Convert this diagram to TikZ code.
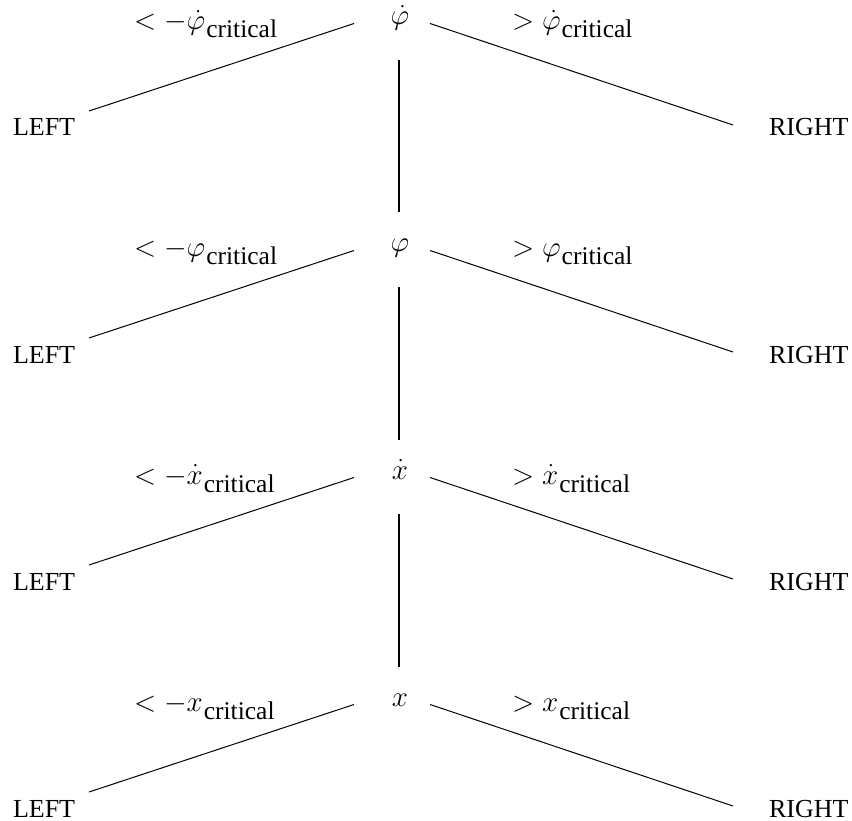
\RequirePackage{fix-cm}
\documentclass[tikz,border=0pt]{standalone}
\usepackage{fontspec}
\setmainfont{Liberation Serif}
\newfontfamily\timesfont{Liberation Serif}
\newcommand\mathbig[1]{{\fontsize{29}{32}\selectfont$#1$}}
\begin{document}
\begin{tikzpicture}[x=1pt,y=-1pt,
  txt/.style={font=\timesfont\fontsize{26}{28}\selectfont, inner sep=0pt, outer sep=0pt},
  var/.style={font=\fontsize{29}{32}\selectfont, inner sep=0pt, outer sep=0pt, anchor=base},
  lbl/.style={font=\timesfont\fontsize{25.5}{28}\selectfont, inner sep=0pt, outer sep=0pt, anchor=base west},
  branch/.style={line width=1pt},
  stem/.style={line width=2.8pt}]
\useasboundingbox (0,0) rectangle (852,821);
\foreach \i/\v in {0/{\dot\varphi},1/{\varphi},2/{\dot x},3/{x}} {
  \pgfmathsetmacro\dy{227*\i}
  \node[var] (v\i) at (400,25+\dy) {$\v$};
  \node[txt, anchor=base west] (L\i) at (13,136+\dy) {LEFT};
  \node[txt, anchor=base west] (R\i) at (769,136+\dy) {RIGHT};
  \node[lbl] (ll\i) at (134,30+\dy) {\mathbig{<-\v}\hspace{1pt}\raisebox{-8pt}{critical}};
  \node[lbl] (rl\i) at (512,30+\dy) {\mathbig{>\v}\hspace{1pt}\raisebox{-8pt}{critical}};
  \coordinate (la\i) at (89,111+\dy);
  \coordinate (lb\i) at (354,23.5+\dy);
  \coordinate (ra\i) at (430,23.5+\dy);
  \coordinate (rb\i) at (733,125+\dy);
  \draw[branch] (la\i) -- (lb\i);
  \draw[branch] (ra\i) -- (rb\i);
}
\foreach \i in {0,1,2} {
  \pgfmathsetmacro\dy{227*\i}
  \coordinate (sa\i) at (399,60+\dy);
  \coordinate (sb\i) at (399,212.5+\dy);
  \draw[stem] (sa\i) -- (sb\i);
}
\end{tikzpicture}
\end{document}
